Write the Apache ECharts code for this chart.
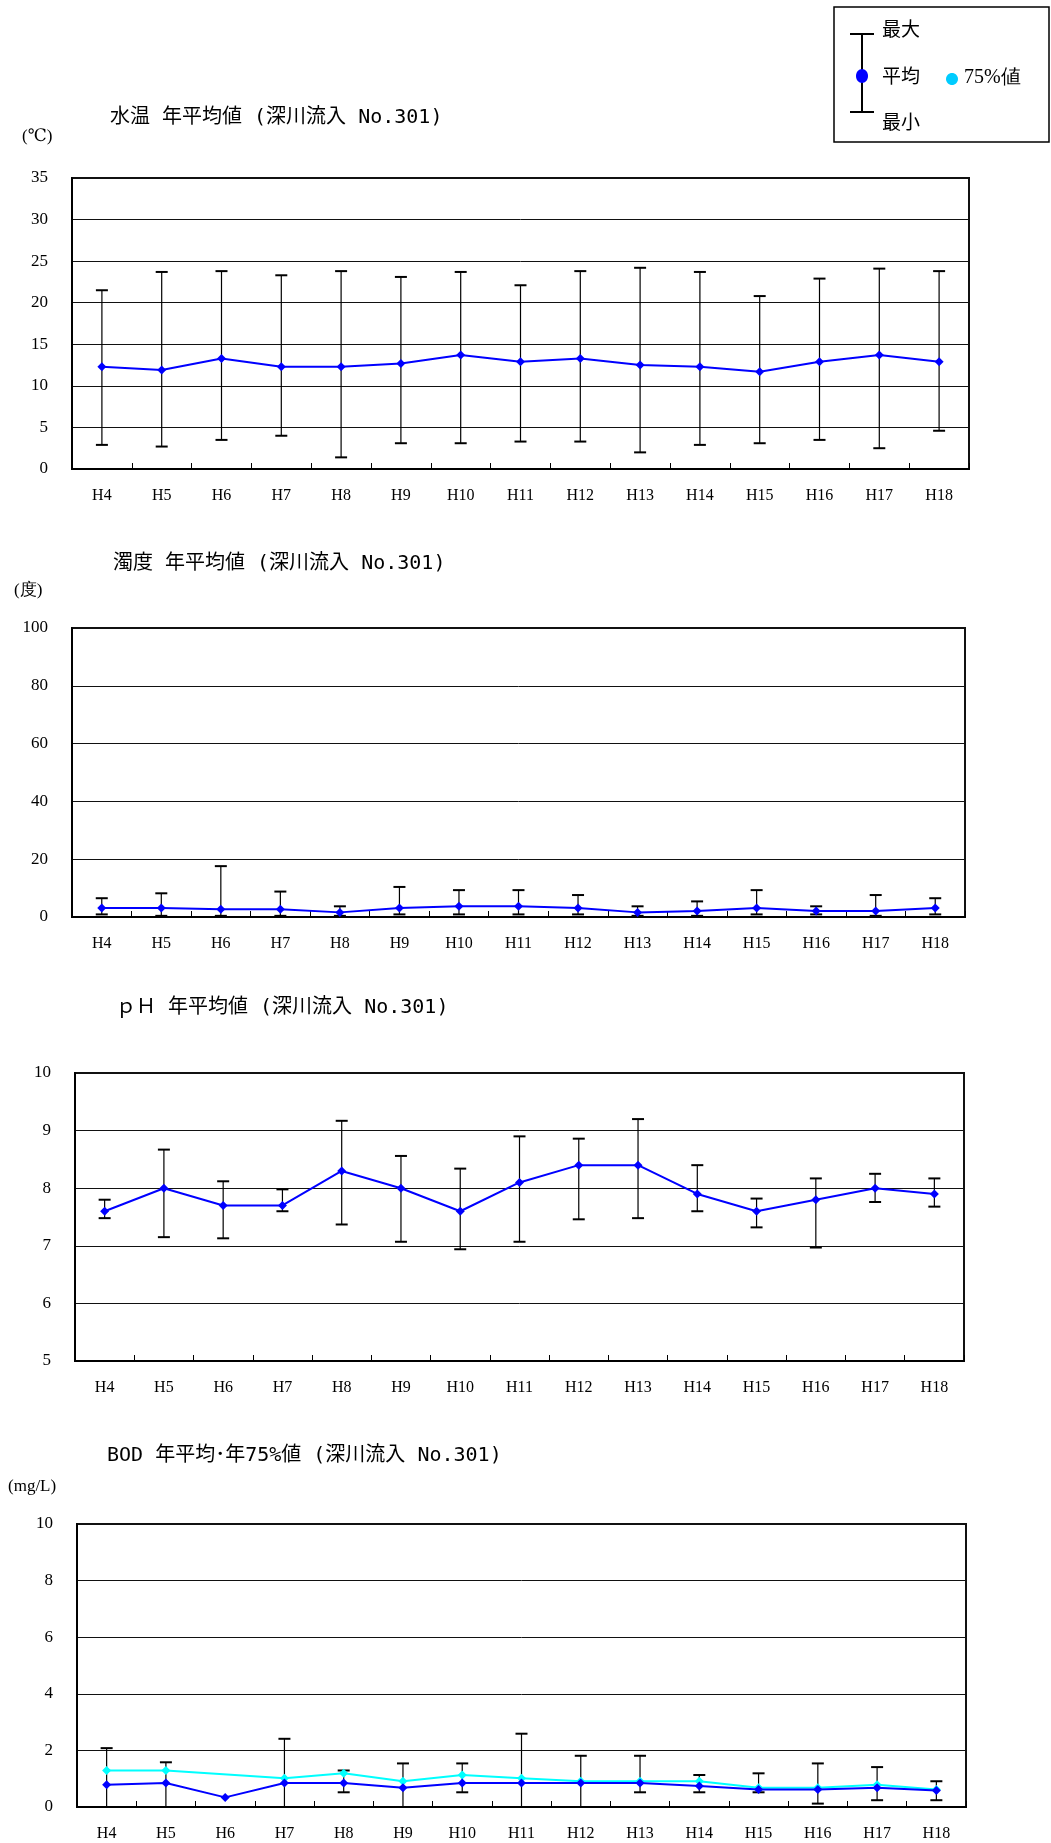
<!DOCTYPE html>
<html><head><meta charset="utf-8">
<script src="https://cdn.jsdelivr.net/npm/echarts@6/dist/echarts.min.js"></script>
<style>html,body{margin:0;padding:0;background:#fff}#c{width:1051px;height:1843px}</style>
</head><body><div id="c"></div>
<script>
const categories = ['H4','H5','H6','H7','H8','H9','H10','H11','H12','H13','H14','H15','H16','H17','H18'];

const tempMean = [12.3,11.9,13.3,12.3,12.3,12.7,13.7,12.9,13.3,12.5,12.3,11.7,12.9,13.7,12.9];
const tempMax  = [21.5,23.7,23.8,23.3,23.8,23.1,23.7,22.1,23.8,24.2,23.7,20.8,22.9,24.1,23.8];
const tempMin  = [2.9,2.7,3.5,4.0,1.4,3.1,3.1,3.3,3.3,2.0,2.9,3.1,3.5,2.5,4.6];

const turbMean = [3.1,3.1,2.7,2.7,1.6,3.1,3.7,3.7,3.1,1.6,2.1,3.1,2.1,2.1,3.1];
const turbMax  = [6.5,8.2,17.6,8.8,3.7,10.4,9.3,9.3,7.6,3.7,5.4,9.3,3.7,7.6,6.5];
const turbMin  = [0.9,0.4,0.4,0.4,0.4,0.9,0.9,0.9,0.9,0.4,0.4,0.9,0.9,0.4,0.9];

const phMean = [7.6,8.0,7.7,7.7,8.3,8.0,7.6,8.1,8.4,8.4,7.9,7.6,7.8,8.0,7.9];
const phMax  = [7.8,8.67,8.12,7.98,9.17,8.56,8.34,8.9,8.86,9.2,8.4,7.82,8.17,8.25,8.17];
const phMin  = [7.48,7.15,7.13,7.6,7.37,7.07,6.94,7.07,7.46,7.48,7.6,7.32,6.97,7.76,7.68];

const bodMean = [0.79,0.85,0.34,0.85,0.85,0.68,0.85,0.85,0.85,0.85,0.74,0.62,0.62,0.68,0.58];
const bod75   = [1.29,1.29,null,1.02,1.19,0.91,1.13,1.02,0.91,0.91,0.91,0.68,0.68,0.79,0.62];
const bodMax  = [2.08,1.58,null,2.41,1.29,1.54,1.54,2.59,1.81,1.81,1.13,1.19,1.54,1.41,0.91];
const bodMin  = [0,0,null,0,0.52,0,0.52,0,0,0.52,0.52,0.52,0.12,0.24,0.24];

const yTicks = [
  {min:0, max:35, interval:5},
  {min:0, max:100, interval:20},
  {min:5, max:10, interval:1},
  {min:0, max:10, interval:2}
];
const titles = ['水温 年平均値 (深川流入 No.301)','濁度 年平均値 (深川流入 No.301)','ｐＨ 年平均値 (深川流入 No.301)','BOD 年平均･年75%値 (深川流入 No.301)'];
const units = ['(℃)','(度)','','(mg/L)'];

const grids = [
  {left:72, top:178, width:897, height:291},
  {left:72, top:628, width:893, height:289},
  {left:75, top:1073, width:889, height:288},
  {left:77, top:1524, width:889, height:283}
];
const titlePos = [{left:110, top:108},{left:113, top:554},{left:116, top:998},{left:107, top:1446}];
const unitPos = [{left:22, top:128},{left:14, top:582},null,{left:8, top:1478}];

const serif = '"Liberation Serif","DejaVu Serif",serif';
const cjk = '"Noto Sans CJK JP","Noto Sans CJK SC",sans-serif';
const titleFont = '"DejaVu Sans Mono","Noto Sans CJK JP",monospace';

function errBars(mins, maxs){
  const d = [];
  for (let i = 0; i < categories.length; i++) {
    if (mins[i] == null || maxs[i] == null) continue;
    d.push([i, mins[i], maxs[i]]);
  }
  return d;
}
function renderErr(params, api){
  const i = api.value(0);
  const lo = api.coord([i, api.value(1)]);
  const hi = api.coord([i, api.value(2)]);
  const w = 6;
  return {type:'group', children:[
    {type:'line', shape:{x1:hi[0], y1:hi[1], x2:lo[0], y2:lo[1]}, style:{stroke:'#000', lineWidth:1.2}},
    {type:'line', shape:{x1:hi[0]-w, y1:hi[1], x2:hi[0]+w, y2:hi[1]}, style:{stroke:'#000', lineWidth:2}},
    {type:'line', shape:{x1:lo[0]-w, y1:lo[1], x2:lo[0]+w, y2:lo[1]}, style:{stroke:'#000', lineWidth:2}}
  ]};
}

const means = [tempMean, turbMean, phMean, bodMean];
const mins = [tempMin, turbMin, phMin, bodMin];
const maxs = [tempMax, turbMax, phMax, bodMax];

const option = {
  backgroundColor:'#fff',
  animation:false,
  title: [],
  grid: grids.map(g => Object.assign({show:true, borderColor:'#111', borderWidth:2, backgroundColor:'#fff'}, g)),
  xAxis: grids.map((g, k) => ({
    type:'category', gridIndex:k, data:categories, boundaryGap:true,
    axisLine:{show:true, lineStyle:{color:'#000', width:2}},
    axisTick:{show:true, inside:true, length:6, interval:0, lineStyle:{color:'#000', width:1}},
    axisLabel:{interval:0, margin:19, fontFamily:serif, fontSize:16, color:'#000'}
  })),
  yAxis: yTicks.map((t, k) => ({
    type:'value', gridIndex:k, min:t.min, max:t.max, interval:t.interval,
    axisLine:{show:true, lineStyle:{color:'#000', width:2}},
    axisTick:{show:false},
    splitLine:{show:true, lineStyle:{color:'#111', width:1}},
    axisLabel:{margin:24, fontFamily:serif, fontSize:17, color:'#000'}
  })),
  series: [],
  graphic: []
};

for (let k = 0; k < 4; k++) {
  option.title.push({text:titles[k], left:titlePos[k].left, top:titlePos[k].top, padding:0,
    textStyle:{fontFamily:titleFont, fontSize:20, fontWeight:'normal', color:'#000'}});
  if (units[k]) option.title.push({text:units[k], left:unitPos[k].left, top:unitPos[k].top, padding:0,
    textStyle:{fontFamily:serif, fontSize:17, fontWeight:'normal', color:'#000'}});
  option.series.push({
    type:'custom', xAxisIndex:k, yAxisIndex:k, renderItem:renderErr,
    data: errBars(mins[k], maxs[k]), encode:{x:0, y:[1,2]}, clip:false, z:2
  });
  if (k === 3) {
    option.series.push({
      type:'line', xAxisIndex:k, yAxisIndex:k, data:bod75, connectNulls:true,
      symbol:'diamond', symbolSize:9, showSymbol:true,
      lineStyle:{color:'#00FFFF', width:2}, itemStyle:{color:'#00FFFF'}, z:3
    });
  }
  option.series.push({
    type:'line', xAxisIndex:k, yAxisIndex:k, data:means[k],
    symbol:'diamond', symbolSize:9, showSymbol:true,
    lineStyle:{color:'#0000FF', width:2}, itemStyle:{color:'#0000FF'}, z:4
  });
}

// legend box
option.graphic = [
  {type:'rect', shape:{x:834, y:7, width:215, height:135}, style:{fill:'#fff', stroke:'#000', lineWidth:1.5}, z:10},
  {type:'line', shape:{x1:862, y1:34, x2:862, y2:112}, style:{stroke:'#000', lineWidth:2}, z:11},
  {type:'line', shape:{x1:850, y1:34, x2:874, y2:34}, style:{stroke:'#000', lineWidth:2}, z:11},
  {type:'line', shape:{x1:850, y1:112, x2:874, y2:112}, style:{stroke:'#000', lineWidth:2}, z:11},
  {type:'ellipse', shape:{cx:862, cy:76, rx:6, ry:7}, style:{fill:'#0000FF'}, z:12},
  {type:'ellipse', shape:{cx:952, cy:79, rx:6, ry:6}, style:{fill:'#00CCFF'}, z:12},
  {type:'text', x:882, y:29, style:{text:'最大', font:'19px '+cjk, fill:'#000', textVerticalAlign:'middle', verticalAlign:'middle'}, z:12},
  {type:'text', x:882, y:76, style:{text:'平均', font:'19px '+cjk, fill:'#000', textVerticalAlign:'middle', verticalAlign:'middle'}, z:12},
  {type:'text', x:882, y:122, style:{text:'最小', font:'19px '+cjk, fill:'#000', textVerticalAlign:'middle', verticalAlign:'middle'}, z:12},
  {type:'text', x:964, y:78, style:{text:'75%値', font:'20px '+serif, fill:'#000', textVerticalAlign:'middle', verticalAlign:'middle'}, z:12}
];

const chart = echarts.init(document.getElementById('c'), null, {renderer:'canvas'});
chart.setOption(option);
</script></body></html>
